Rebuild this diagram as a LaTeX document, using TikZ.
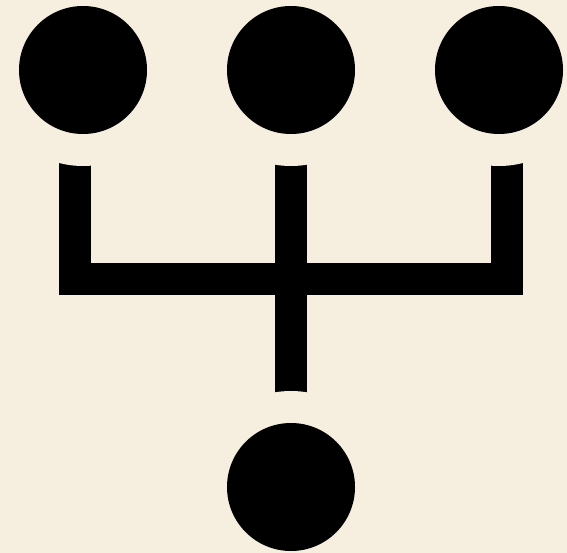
\documentclass[tikz,border=0pt]{standalone}
\usetikzlibrary{backgrounds}
\definecolor{paper}{RGB}{246,239,223}
\begin{document}
\begin{tikzpicture}[x=1pt, y=-1pt,
    dot/.style={circle, fill=black, minimum size=128pt, inner sep=0pt,
                preaction={draw=paper, line width=64pt}},
    bar/.style={black, line width=32pt}
  ]
    \useasboundingbox (0,0) rectangle (567,553);

    % Dots
    \node[dot] (left)   at (83,70)  {};
    \node[dot] (mid)    at (291,70) {};
    \node[dot] (right)  at (499,70) {};
    \node[dot] (bottom) at (291,487) {};

    % Bars, cut short by the dots' paper rings
    \begin{pgfonlayer}{background}
      \fill[paper] (0,0) rectangle (567,553);
      \coordinate (hub) at (291,279);
      \draw[bar] ([xshift=-8pt]left.center) |- (hub) -| ([xshift=8pt]right.center);
      \draw[bar] (mid.center) -- (bottom.center);
    \end{pgfonlayer}
\end{tikzpicture}
\end{document}
